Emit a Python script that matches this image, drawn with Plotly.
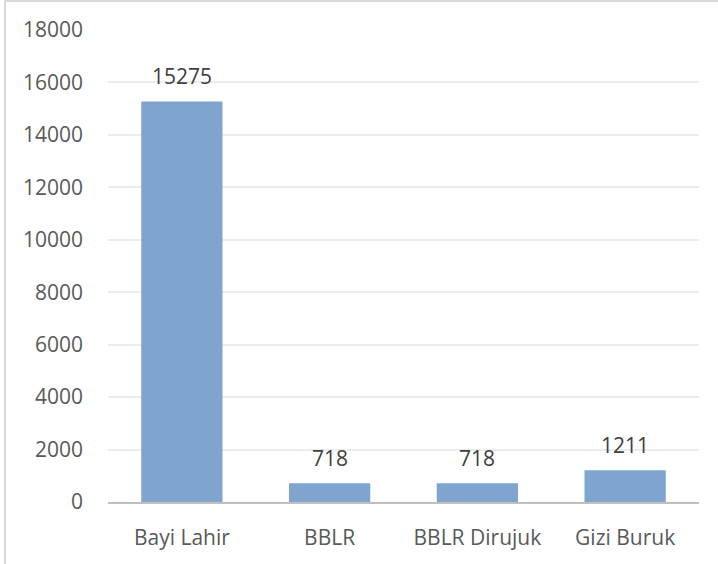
import plotly.graph_objects as go

# data
categories = ["Bayi Lahir", "BBLR", "BBLR Dirujuk", "Gizi Buruk"]
values = [15275, 718, 718, 1211]
y_ticks = [0, 2000, 4000, 6000, 8000, 10000, 12000, 14000, 16000, 18000]

font_name = "Open Sans"
text_grey = "#595959"
bar_blue = "#7FA5CF"

fig = go.Figure(go.Bar(
    x=categories,
    y=values,
    marker=dict(color=bar_blue, line=dict(width=0)),
    width=0.55,
    hoverinfo="x+y",
))

# value labels sit a little higher above the bars than plotly's outside text
for cat, val in zip(categories, values):
    fig.add_annotation(
        x=cat, y=val, text=str(val),
        showarrow=False, yanchor="bottom", yshift=9,
        font=dict(family=font_name, size=21, color="#404040"),
    )

fig.update_layout(
    width=718,
    height=564,
    margin=dict(l=108, r=19, t=30, b=62, autoexpand=False),
    paper_bgcolor="white",
    plot_bgcolor="white",
    showlegend=False,
    font=dict(family=font_name, size=21, color=text_grey),
    shapes=[
        # outer chart border, cut off on right and bottom
        dict(type="line", xref="paper", yref="paper", x0=-0.1743, x1=-0.1743, y0=-0.2, y1=1.07,
             line=dict(color="#d9d9d9", width=2)),
        dict(type="line", xref="paper", yref="paper", x0=-0.1743, x1=1.1, y0=1.0614, y1=1.0614,
             line=dict(color="#d9d9d9", width=2)),
    ],
)

fig.update_xaxes(
    automargin=False,
    showgrid=False,
    showline=True,
    linecolor="#bfbfbf",
    linewidth=2,
    ticks="",
    ticklabelstandoff=16,
    tickfont=dict(family=font_name, size=21, color=text_grey),
)
fig.update_yaxes(
    automargin=False,
    range=[0, 18000],
    tickvals=y_ticks,
    ticktext=[str(t) for t in y_ticks],
    showgrid=True,
    gridcolor="#ececec",
    gridwidth=1.5,
    zeroline=False,
    showline=False,
    ticks="",
    ticklabelstandoff=24,
    tickfont=dict(family=font_name, size=21, color=text_grey),
)

# drop the page's default body margin so the figure sits at the window corner
fig.write_html("out.html", config={"displayModeBar": False},
               post_script="document.body.style.margin='0px';")
